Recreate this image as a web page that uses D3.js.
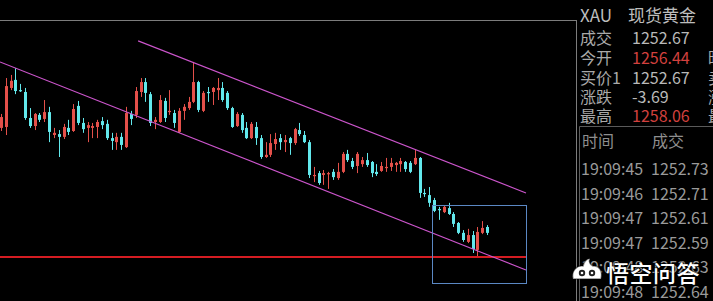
<!DOCTYPE html>
<html>
<head>
<meta charset="utf-8">
<script src="https://cdn.jsdelivr.net/npm/d3@7"></script>
<style>
  html, body { margin: 0; padding: 0; background: #000; overflow: hidden; }
  svg { display: block; }
</style>
</head>
<body>
<svg id="chart" width="713" height="301"></svg>
<script>
// Candle OHLC values (price), oldest to newest
const opens  = [1255.93,1255.96,1257.22,1257.48,1257.15,1257.09,1256.25,1255.99,1256.35,1256.22,
                1256.44,1255.70,1255.73,1255.64,1255.93,1255.83,1256.64,1256.09,1255.93,1255.93,
                1255.96,1256.15,1256.06,1255.60,1255.47,1255.64,1255.31,1256.38,1256.35,1257.09,
                1257.41,1257.02,1256.12,1256.12,1256.80,1256.44,1256.41,1255.80,1256.48,1256.57,
                1256.77,1257.41,1256.48,1257.09,1257.09,1257.15,1257.22,1257.06,1256.57,1255.99,
                1256.35,1255.93,1255.60,1255.96,1255.60,1254.99,1255.06,1255.41,1255.60,1255.47,
                1255.60,1255.44,1255.86,1255.70,1255.47,1254.38,1254.47,1254.41,1254.44,1254.51,
                1254.31,1254.51,1255.09,1254.86,1254.70,1254.76,1254.89,1254.83,1254.51,1254.54,
                1254.64,1254.67,1254.73,1254.76,1254.83,1254.80,1254.76,1254.96,1253.83,1253.76,
                1253.60,1253.31,1253.21,1253.34,1253.15,1252.86,1252.54,1252.25,1252.47,1251.99,
                1252.54,1252.73];
const highs  = [1256.38,1257.54,1257.64,1257.86,1257.35,1257.22,1256.57,1256.41,1256.41,1256.83,
                1256.61,1255.93,1255.86,1256.06,1256.19,1256.70,1256.80,1256.25,1256.12,1256.09,
                1256.19,1256.28,1256.19,1255.77,1255.77,1255.77,1256.61,1256.48,1257.25,1257.54,
                1257.54,1257.09,1256.28,1256.99,1256.90,1257.15,1256.51,1256.57,1256.70,1256.93,
                1258.06,1257.45,1257.12,1257.25,1257.25,1257.54,1257.41,1257.12,1256.61,1256.44,
                1256.41,1256.12,1256.12,1256.12,1255.70,1255.47,1255.73,1255.77,1255.73,1255.70,
                1255.64,1255.93,1256.09,1255.83,1255.54,1254.67,1254.54,1254.57,1254.51,1254.60,
                1254.80,1255.15,1255.22,1254.96,1255.15,1254.99,1255.12,1254.86,1254.76,1254.83,
                1254.96,1254.96,1254.83,1254.96,1254.86,1254.86,1255.22,1254.99,1253.96,1254.02,
                1253.67,1253.38,1253.41,1253.51,1253.21,1252.89,1252.63,1252.67,1252.60,1252.73,
                1252.92,1252.79];
const lows   = [1255.83,1255.70,1257.15,1257.02,1257.09,1256.19,1255.93,1255.86,1256.12,1256.12,
                1255.47,1255.60,1254.99,1255.57,1255.70,1255.80,1256.02,1255.77,1255.47,1255.60,
                1255.60,1255.89,1255.54,1255.22,1255.22,1255.22,1255.28,1256.02,1256.25,1256.93,
                1256.77,1255.99,1255.89,1256.09,1256.12,1256.35,1255.93,1255.77,1256.19,1256.51,
                1256.73,1256.44,1256.44,1256.77,1256.67,1256.83,1256.77,1256.51,1255.93,1255.96,
                1255.77,1255.57,1255.57,1255.38,1254.93,1254.96,1254.99,1255.22,1255.22,1255.15,
                1255.06,1255.38,1255.67,1255.44,1254.31,1254.18,1254.09,1254.09,1253.96,1254.25,
                1254.25,1254.47,1254.83,1254.60,1254.47,1254.67,1254.67,1254.34,1254.38,1254.51,
                1254.51,1254.54,1254.51,1254.51,1254.51,1254.47,1254.73,1253.67,1253.70,1253.38,
                1253.21,1252.96,1253.18,1253.12,1252.73,1252.50,1252.25,1252.21,1251.89,1251.79,
                1252.50,1252.47];
const closes = [1256.28,1257.28,1257.45,1257.12,1257.12,1256.25,1255.99,1256.38,1256.19,1256.44,
                1255.80,1255.77,1255.64,1255.96,1255.80,1256.54,1256.09,1255.89,1256.02,1255.99,
                1256.12,1256.02,1255.60,1255.51,1255.64,1255.38,1256.41,1256.22,1257.12,1257.41,
                1257.06,1256.09,1256.19,1256.83,1256.25,1256.48,1256.09,1256.48,1256.61,1256.77,
                1257.41,1256.51,1257.06,1257.06,1257.22,1257.22,1256.83,1256.57,1255.96,1256.38,
                1255.86,1255.60,1256.06,1255.60,1254.99,1255.06,1255.44,1255.57,1255.47,1255.54,
                1255.44,1255.89,1255.73,1255.47,1254.41,1254.41,1254.15,1254.47,1254.47,1254.34,
                1254.51,1255.09,1254.89,1254.67,1255.09,1254.89,1254.73,1254.47,1254.44,1254.70,
                1254.67,1254.80,1254.80,1254.86,1254.60,1254.51,1254.96,1253.83,1253.80,1253.51,
                1253.25,1253.28,1253.38,1253.15,1252.83,1252.54,1252.31,1252.47,1252.02,1252.57,
                1252.70,1252.54];

// Channel lines: [startIndex, startPrice, endIndex, endPrice]
const upperChannel = [28.5, 1258.74, 109.1, 1253.83];
const lowerChannel = [-0.2, 1258.06, 109.1, 1251.34];
// Highlight box: index span and price span
const boxIndex = [89.5, 109.1];
const boxPrice = [1253.44, 1250.92];
// Horizontal support level
const supportPrice = 1251.76;
const supportIndex = [-0.5, 109.1];

// Quote panel
const quoteTitle = ["XAU", "现货黄金"];
const quoteLabels = ["成交", "今开", "买价1", "涨跌", "最高"];
const quoteValues = ["1252.67", "1256.44", "1252.67", "-3.69", "1258.06"];
const quoteUp     = [false, true, false, false, true];
const quoteSecond = ["", "昨收", "卖价1", "涨幅", "最低"];
const tickHeader = ["时间", "成交"];
const tickTimes  = ["19:09:45", "19:09:46", "19:09:47", "19:09:47", "19:09:48", "19:09:48"];
const tickPrices = ["1252.73", "1252.71", "1252.61", "1252.59", "1252.63", "1252.64"];

const candles = opens.map((o, i) => ({ i, o, h: highs[i], l: lows[i], c: closes[i] }));

const W = 713, H = 301, plotRight = 576;
const svg = d3.select("#chart");
svg.append("rect").attr("width", W).attr("height", H).attr("fill", "#000");

const x = d3.scaleLinear().domain([0, 101]).range([1, 487]);
const y = d3.scaleLinear().domain([1250.34, 1260.06]).range([H, 0]);

const UP = "#e4504a", DOWN = "#62e8ec";

const plot = svg.append("g");
plot.append("clipPath").attr("id", "plotClip")
  .append("rect").attr("x", 0).attr("y", 21).attr("width", plotRight).attr("height", H - 21);
const gPlot = plot.append("g").attr("clip-path", "url(#plotClip)");

// support level
gPlot.append("line")
  .attr("x1", x(supportIndex[0])).attr("x2", x(supportIndex[1]))
  .attr("y1", Math.round(y(supportPrice))).attr("y2", Math.round(y(supportPrice)))
  .attr("stroke", "#d41c22").attr("stroke-width", 2);

// candles
const cg = gPlot.selectAll("g.candle").data(candles).join("g").attr("class", "candle");
cg.append("line")
  .attr("x1", d => Math.round(x(d.i)) + 0.5).attr("x2", d => Math.round(x(d.i)) + 0.5)
  .attr("y1", d => y(d.h)).attr("y2", d => y(d.l))
  .attr("stroke", d => d.c >= d.o ? UP : DOWN).attr("stroke-width", 1);
cg.append("rect")
  .attr("x", d => Math.round(x(d.i)) - 1)
  .attr("width", 3)
  .attr("y", d => y(Math.max(d.o, d.c)))
  .attr("height", d => Math.max(1.2, Math.abs(y(d.o) - y(d.c))))
  .attr("fill", d => d.c >= d.o ? UP : DOWN);

// channel lines
[upperChannel, lowerChannel].forEach(ch => {
  gPlot.append("line")
    .attr("x1", x(ch[0])).attr("y1", y(ch[1]))
    .attr("x2", x(ch[2])).attr("y2", y(ch[3]))
    .attr("stroke", "#cc55cc").attr("stroke-width", 1.1);
});

// highlight box
gPlot.append("rect")
  .attr("x", Math.round(x(boxIndex[0])) + 0.5)
  .attr("y", Math.round(y(boxPrice[0])) + 0.5)
  .attr("width", Math.round(x(boxIndex[1]) - x(boxIndex[0])))
  .attr("height", Math.round(y(boxPrice[1]) - y(boxPrice[0])))
  .attr("fill", "none").attr("stroke", "#5b88c4").attr("stroke-width", 1);

// frame lines
const frame = svg.append("g").attr("stroke", "#7c7c7c").attr("stroke-width", 1);
frame.append("line").attr("x1", 0).attr("x2", plotRight + 1).attr("y1", 20.5).attr("y2", 20.5);
frame.append("line").attr("x1", plotRight + 0.5).attr("x2", plotRight + 0.5).attr("y1", 20).attr("y2", H);
frame.append("line").attr("x1", 579.5).attr("x2", 579.5).attr("y1", 126.5).attr("y2", H).attr("stroke", "#5a5a5a");
frame.append("line").attr("x1", 579.5).attr("x2", W).attr("y1", 126.5).attr("y2", 126.5).attr("stroke", "#5a5a5a");

// quote panel text
const font = "'Noto Sans CJK SC', 'Noto Sans', sans-serif";
const panel = svg.append("g").attr("font-family", font).attr("font-size", 16);
panel.append("text").attr("x", 580).attr("y", 22).attr("fill", "#bdbdbd").attr("font-size", 17).text(quoteTitle[0]);
panel.append("text").attr("x", 628).attr("y", 22).attr("fill", "#bdbdbd").attr("font-size", 17).text(quoteTitle[1]);

const rowY = [44, 64, 84, 103, 122];
quoteLabels.forEach((lab, k) => {
  panel.append("text").attr("x", 580).attr("y", rowY[k]).attr("fill", "#a9a9a9").text(lab);
  panel.append("text").attr("x", 632).attr("y", rowY[k])
    .attr("fill", quoteUp[k] ? "#d2403e" : "#b9b9b9").text(quoteValues[k]);
  if (quoteSecond[k]) panel.append("text").attr("x", 708).attr("y", rowY[k]).attr("fill", "#a9a9a9").text(quoteSecond[k]);
});

panel.append("text").attr("x", 582).attr("y", 147).attr("fill", "#8e8e8e").text(tickHeader[0]);
panel.append("text").attr("x", 652).attr("y", 147).attr("fill", "#8e8e8e").text(tickHeader[1]);
const tickY = [175, 199.5, 223.5, 248.5, 273, 298];
tickTimes.forEach((t, k) => {
  panel.append("text").attr("x", 581).attr("y", tickY[k]).attr("fill", "#9a9a9a").text(t);
  panel.append("text").attr("x", 651).attr("y", tickY[k]).attr("fill", "#9a9a9a").text(tickPrices[k]);
});

// site mark
const mark = svg.append("g");
const icon = mark.append("g").attr("transform", "translate(587,273)");
icon.append("path")
  .attr("d", "M-14,6 C-16,-2 -10,-8 -4,-7 C-3,-12 1,-15 3,-14 C1,-11 4,-8 6,-7 C12,-8 16,-2 14,6 Z")
  .attr("fill", "#fff").attr("stroke", "rgba(0,0,0,0.45)").attr("stroke-width", 1.5);
icon.append("circle").attr("cx", -5).attr("cy", 0).attr("r", 3.2).attr("fill", "#222");
icon.append("circle").attr("cx", 5).attr("cy", 0).attr("r", 3.2).attr("fill", "#222");
icon.append("circle").attr("cx", -5).attr("cy", 0).attr("r", 1.3).attr("fill", "#fff");
icon.append("circle").attr("cx", 5).attr("cy", 0).attr("r", 1.3).attr("fill", "#fff");
mark.append("text").attr("x", 606).attr("y", 282)
  .attr("font-family", font).attr("font-size", 23).attr("font-weight", 500)
  .attr("fill", "#ffffff").attr("stroke", "rgba(0,0,0,0.5)").attr("stroke-width", 2)
  .attr("paint-order", "stroke").attr("letter-spacing", 0.5)
  .text("悟空问答");
</script>
</body>
</html>
